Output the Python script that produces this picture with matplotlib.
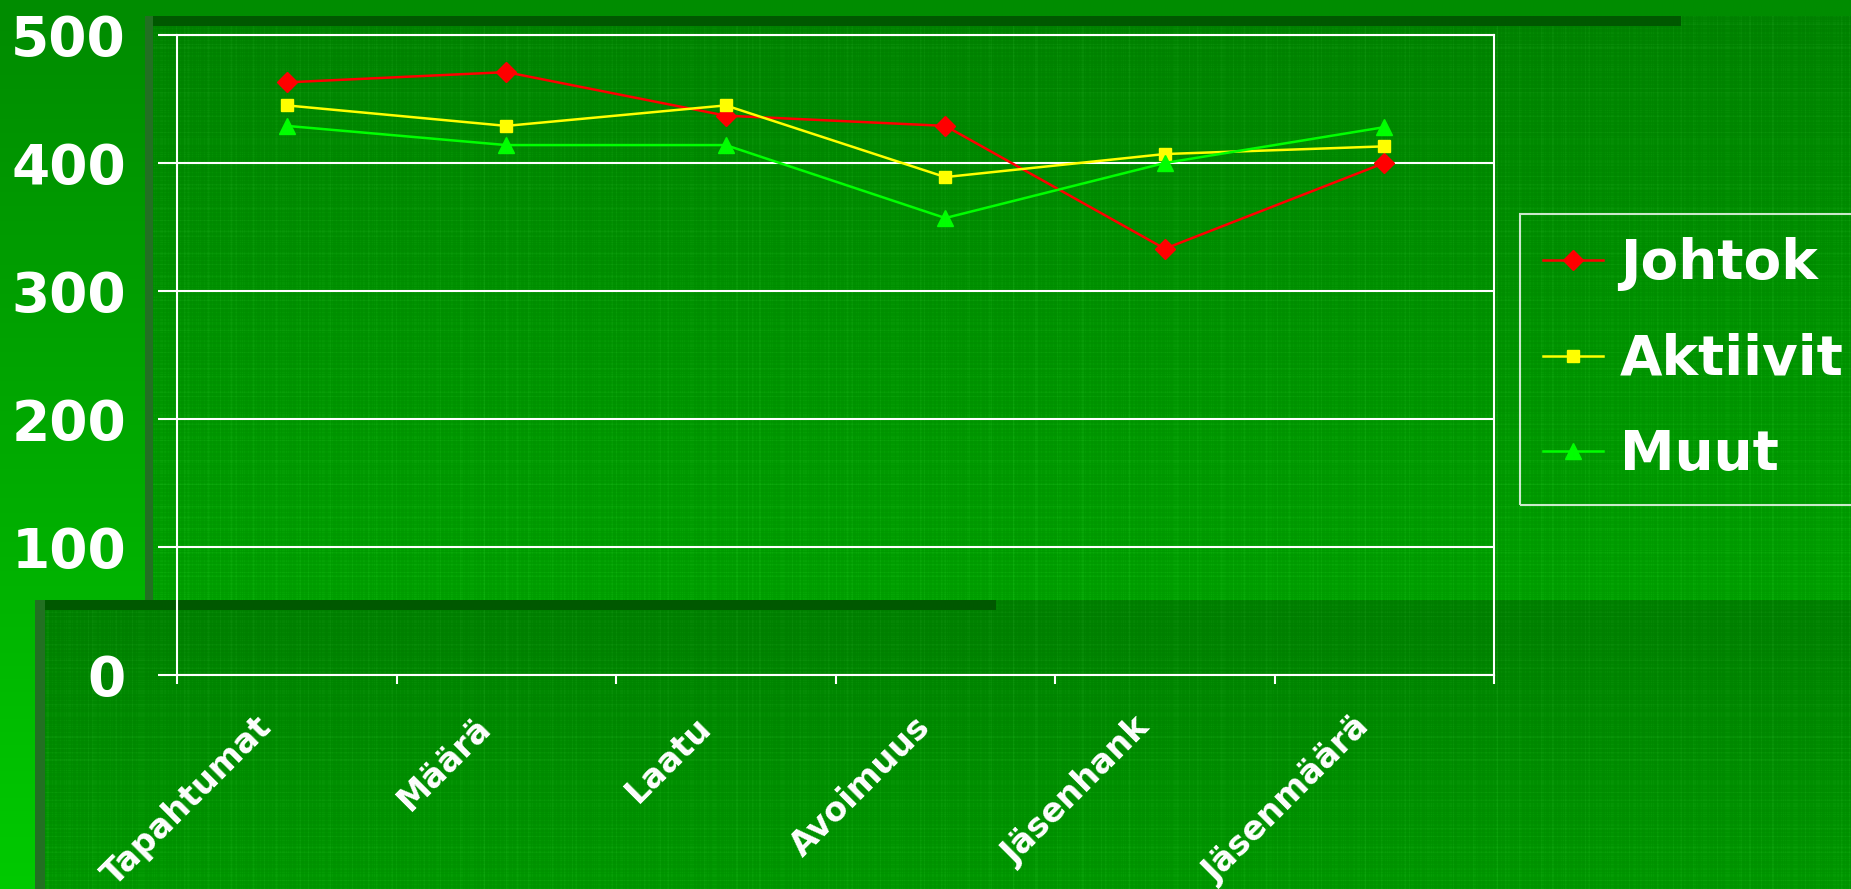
import matplotlib
matplotlib.use("Agg")
import matplotlib.pyplot as plt
import numpy as np
from matplotlib.transforms import ScaledTranslation

categories = ["Tapahtumat", "Määrä", "Laatu", "Avoimuus", "Jäsenhank", "Jäsenmäärä"]
johtok = [463, 471, 437, 429, 333, 400]
aktiivit = [445, 429, 445, 389, 407, 413]
muut = [429, 414, 414, 357, 400, 428]
series_names = ["Johtok", "Aktiivit", "Muut"]
y_ticks = [0, 100, 200, 300, 400, 500]

W, H, DPI = 1851, 889, 100
fig = plt.figure(figsize=(W / DPI, H / DPI), dpi=DPI)


def plaid(n):
    """ thin lighter stripes, like the slide's woven texture """
    i = np.arange(n)
    p = np.zeros(n)
    for period, width, amp in [(4, 1, 0.025), (11, 1, 0.03), (23, 2, 0.03), (47, 2, 0.025)]:
        p += amp * ((i % period) < width)
    return p - p.mean()


# slide background (decoration only)
yy, xx = np.mgrid[0:H, 0:W].astype(float)
tex = plaid(W)[None, :] + plaid(H)[:, None]
g = np.zeros((H, W))
upper = yy < 600
g[upper] = 0x84 + (0xA0 - 0x84) * (yy[upper] - 26) / (600 - 26)
g[~upper] = 0x80 + (0x98 - 0x80) * (yy[~upper] - 600) / (H - 600)
g = g * (1 + tex)
rb = np.clip(tex * 150, 0, 12)
img = np.stack([rb, g, rb], axis=-1)

img[:16, :] = (0, 0x8C, 0)
left = (xx < 145) & (yy >= 16) & (yy < 600)
img[left] = np.stack([np.zeros(left.sum()), 0x8C + (0xB4 - 0x8C) * (yy[left] - 16) / 584,
                      np.zeros(left.sum())], axis=-1)
strip = (xx < 35) & (yy >= 600)
img[strip] = np.stack([np.zeros(strip.sum()), 0xB4 + (0xCA - 0xB4) * (yy[strip] - 600) / 289,
                       np.zeros(strip.sum())], axis=-1)
img[16:26, 145:1680] = (0, 0x58, 0)
img[16:600, 145:153] = (0x22, 0x70, 0x22)
img[600:610, 35:995] = (0, 0x58, 0)
img[600:, 35:45] = (0x22, 0x70, 0x22)

bg = fig.add_axes([0, 0, 1, 1], zorder=-1)
bg.imshow(np.clip(img, 0, 255).astype(np.uint8), aspect="auto", interpolation="nearest")
bg.axis("off")

# chart
ax = fig.add_axes([177 / W, 1 - 675 / H, (1494 - 177) / W, (675 - 35) / H])
ax.set_facecolor("none")
x = np.arange(len(categories)) + 0.5
ax.plot(x, johtok, color="#ff0000", lw=1.8, marker="D", ms=10, label=series_names[0])
ax.plot(x, aktiivit, color="#ffff00", lw=1.8, marker="s", ms=9, label=series_names[1])
ax.plot(x, muut, color="#00ff00", lw=1.8, marker="^", ms=11, label=series_names[2])

ax.set_xlim(0, len(categories))
ax.set_ylim(0, 500)
ax.set_yticks(y_ticks)
ax.grid(axis="y", color="white", lw=1.5)
ax.set_axisbelow(True)
for s in ax.spines.values():
    s.set_color("white")
    s.set_linewidth(1.5)
ax.tick_params(axis="y", colors="white", length=13.7, width=1.5, pad=23)
for lab in ax.get_yticklabels():
    lab.set_fontsize(39.5)
    lab.set_fontweight("bold")

ax.set_xticks(x)
ax.set_xticklabels(categories, rotation=45, ha="right", va="center",
                   rotation_mode="anchor", fontsize=24, fontweight="bold", color="white")
ax.set_xticks(np.arange(len(categories) + 1), minor=True)
ax.tick_params(axis="x", which="major", length=0, pad=34)
ax.tick_params(axis="x", which="minor", length=6.5, width=1.5, color="white")
shift = ScaledTranslation(-20 / DPI, 0, fig.dpi_scale_trans)
for lab in ax.get_xticklabels():
    lab.set_transform(lab.get_transform() + shift)

leg = ax.legend(loc="upper left", bbox_to_anchor=(1520 / W, 1 - 214 / H),
                bbox_transform=fig.transFigure, borderaxespad=0, borderpad=0.42,
                handlelength=1.1, handletextpad=0.3, labelspacing=0.76,
                fancybox=False, facecolor="none", edgecolor="white",
                prop={"size": 39.5, "weight": "bold"})
leg.get_frame().set_linewidth(1.5)
for t in leg.get_texts():
    t.set_color("white")

fig.savefig("out.png", dpi=DPI)
